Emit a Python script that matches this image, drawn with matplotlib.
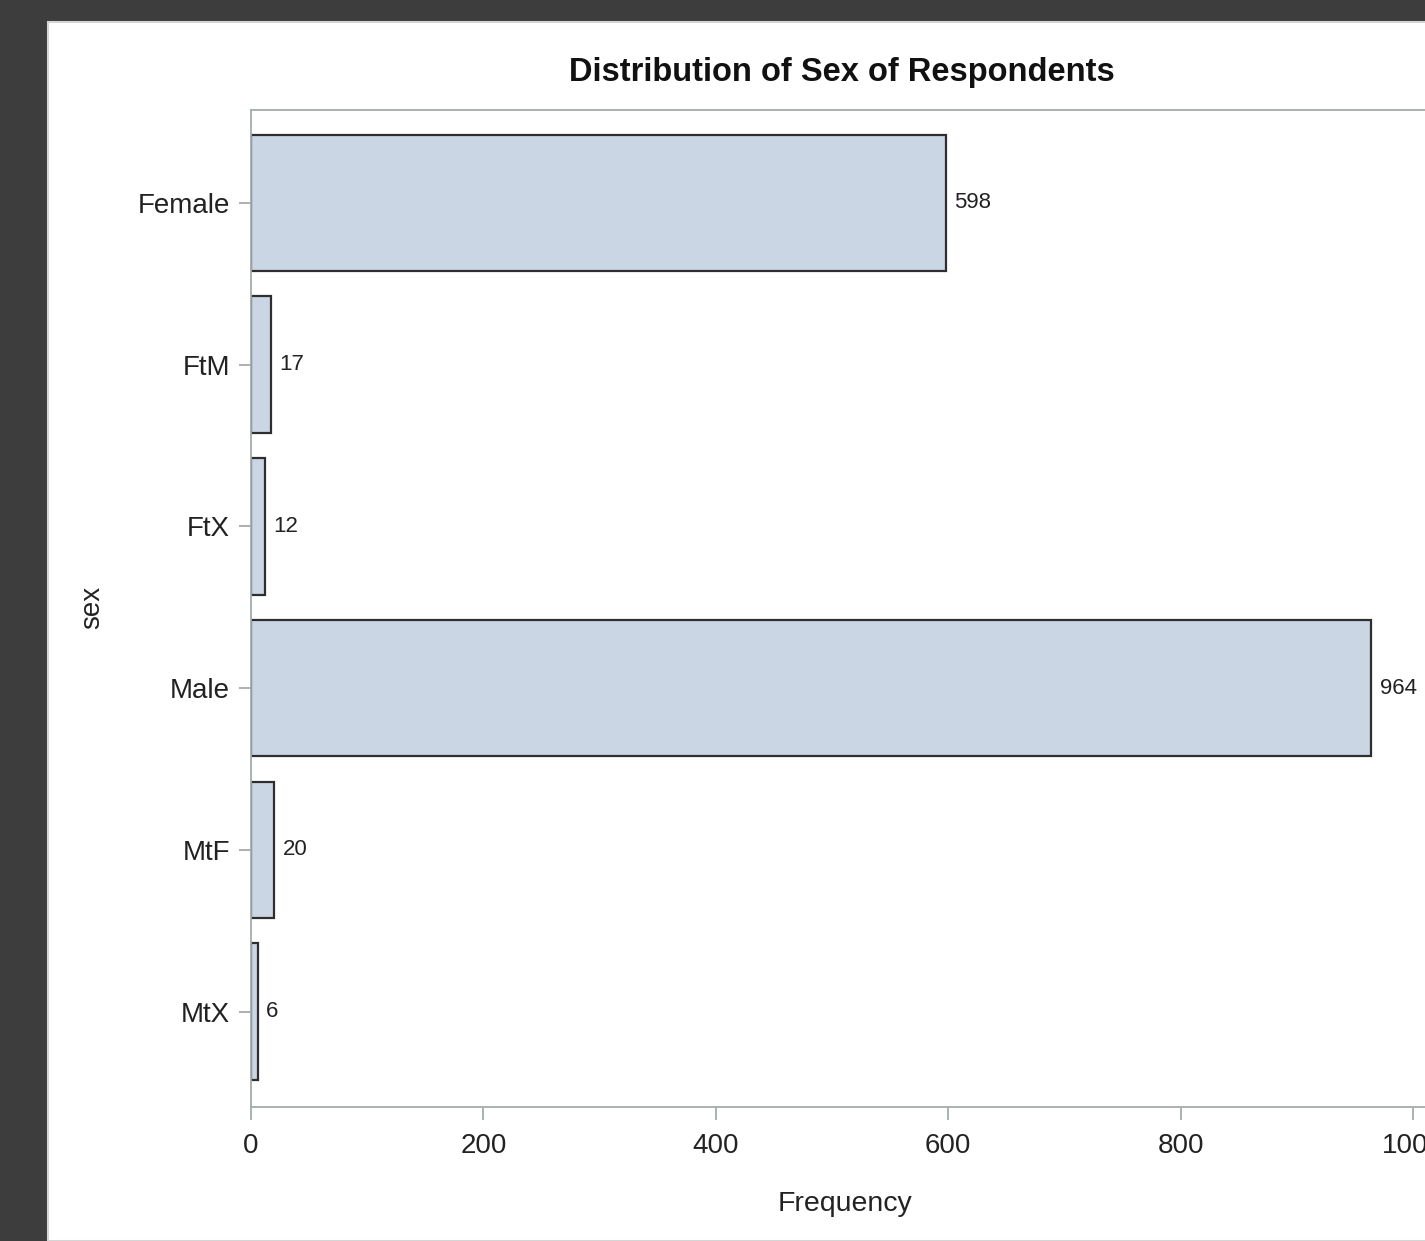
import matplotlib.pyplot as plt
import matplotlib.patches as mpatches
from matplotlib import font_manager
import numpy as np

# Data
categories = ["Female", "FtM", "FtX", "Male", "MtF", "MtX"]
counts = [598, 17, 12, 964, 20, 6]
x_ticks = [0, 200, 400, 600, 800, 1000]

installed = {f.name for f in font_manager.fontManager.ttflist}
TITLE_FONT = "Liberation Sans Narrow" if "Liberation Sans Narrow" in installed else "Liberation Sans"
BASE_FONT = "Liberation Sans"

W, H = 1425, 1241
fig = plt.figure(figsize=(W / 100, H / 100), dpi=100, facecolor="#3d3d3d")

# White panel on dark background
panel = mpatches.Rectangle((48 / W, 0), 1, 1 - 22 / H, transform=fig.transFigure,
                           facecolor="white", edgecolor="#d5d5d5", linewidth=1.5, zorder=-10)
fig.patches.append(panel)

# Axes placed in pixel coordinates (runs past the right edge like the reference)
left, top, bottom = 251, 110, 1107
xmax = 1030
px_per_unit = 1.162
ax = fig.add_axes([left / W, (H - bottom) / H, xmax * px_per_unit / W, (bottom - top) / H])
ax.set_facecolor("white")

y = np.arange(len(categories))
bars = ax.barh(y, counts, height=0.845, color="#cbd6e5", edgecolor="#2e2e2e", linewidth=1.6)
ax.bar_label(bars, labels=[str(c) for c in counts], padding=6, fontsize=16,
             family=BASE_FONT, color="#222222")

ax.set_xlim(0, xmax)
ax.set_ylim(len(categories) - 1 + 0.59, -0.575)
ax.set_yticks(y)
ax.set_yticklabels(categories)
ax.set_xticks(x_ticks)

frame_col = "#a3abab"
for side in ["left", "bottom", "top", "right"]:
    ax.spines[side].set_color(frame_col)
    ax.spines[side].set_linewidth(1.3)

ax.tick_params(axis="y", length=9, width=1.3, color=frame_col, pad=6, labelsize=20,
               labelcolor="#222222")
ax.tick_params(axis="x", length=9, width=1.3, color=frame_col, pad=10, labelsize=20,
               labelcolor="#222222")
for lab in ax.get_xticklabels() + ax.get_yticklabels():
    lab.set_family(BASE_FONT)

fig.text(842 / W, 1 - 72 / H, "Distribution of Sex of Respondents", ha="center", va="center",
         fontsize=28 if TITLE_FONT != BASE_FONT else 23.5, fontweight="bold",
         family=TITLE_FONT, color="#111111")
fig.text(845 / W, 1 - 1204 / H, "Frequency", ha="center", va="center",
         fontsize=20.5, family=BASE_FONT, color="#222222")
fig.text(92 / W, 1 - 607 / H, "sex", ha="center", va="center", rotation=90,
         fontsize=20, family=BASE_FONT, color="#222222")

fig.savefig("out.png", dpi=100, facecolor=fig.get_facecolor())
